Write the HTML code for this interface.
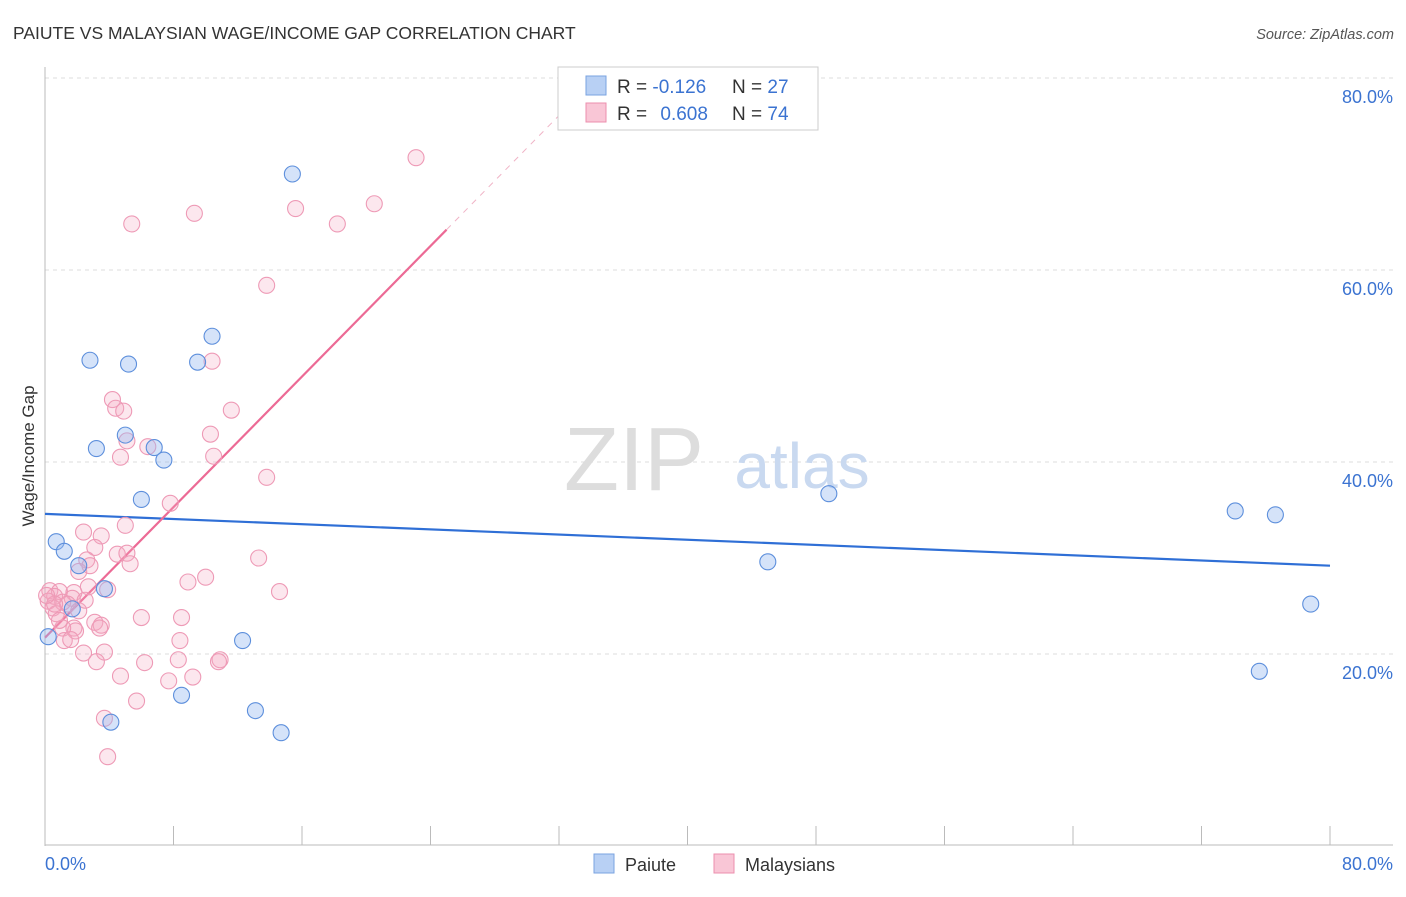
<!DOCTYPE html>
<html><head><meta charset="utf-8"><style>
body{margin:0;background:#fff;font-family:"Liberation Sans",sans-serif;}
svg text{font-family:"Liberation Sans",sans-serif;}
</style></head><body>
<svg width="1406" height="892" xmlns="http://www.w3.org/2000/svg">
<text x="13" y="39" font-size="17.5" fill="#333">PAIUTE VS MALAYSIAN WAGE/INCOME GAP CORRELATION CHART</text>
<text x="1394" y="39" font-size="14.5" fill="#555" font-style="italic" text-anchor="end">Source: ZipAtlas.com</text>
<g id="grid"></g>
<g>
<text x="634" y="490" font-size="90" fill="#ddd" font-family="Liberation Serif" text-anchor="middle">ZIP</text>
<text x="802" y="488" font-size="64" fill="#c9d9f0" text-anchor="middle">atlas</text>
</g>
<line x1="45" y1="67" x2="45" y2="846" stroke="#bbb"/>
<line x1="45" y1="845" x2="1393" y2="845" stroke="#bbb"/>
<g id="ticks"></g>
<g id="lines"></g>
<g id="pts"></g>
<text x="45" y="870" font-size="18" fill="#3b73d1">0.0%</text>
<text x="1393" y="870" font-size="18" fill="#3b73d1" text-anchor="end">80.0%</text>
<text x="34" y="456" font-size="17" fill="#333" text-anchor="middle" transform="rotate(-90 34 456)">Wage/Income Gap</text>
<g>
<rect x="558" y="67" width="260" height="63" fill="#fff" stroke="#ccc"/>
<rect x="586" y="76" width="20" height="19" fill="#b8d0f4" stroke="#7aa3e0"/>
<rect x="586" y="103" width="20" height="19" fill="#f9c6d6" stroke="#ec8fae"/>
<text x="617" y="93" font-size="19" fill="#333">R = <tspan fill="#3b73d1">-0.126</tspan></text>
<text x="732" y="93" font-size="19" fill="#333">N = <tspan fill="#3b73d1">27</tspan></text>
<text x="617" y="120" font-size="19" fill="#333">R = <tspan fill="#3b73d1" dx="8">0.608</tspan></text>
<text x="732" y="120" font-size="19" fill="#333">N = <tspan fill="#3b73d1">74</tspan></text>
</g>
<g>
<rect x="594" y="854" width="20" height="19" fill="#b8d0f4" stroke="#7aa3e0"/>
<text x="625" y="871" font-size="18" fill="#333">Paiute</text>
<rect x="714" y="854" width="20" height="19" fill="#f9c6d6" stroke="#ec8fae"/>
<text x="745" y="871" font-size="18" fill="#333">Malaysians</text>
</g>
</svg>
<script>
const yTicks=[20,40,60,80];
const xTickVals=[0,8,16,24,32,40,48,56,64,72,80];
const paiuteX=[15.4,10.4,2.8,5.2,9.5,3.2,5.0,6.8,7.4,6.0,0.7,1.2,2.1,1.7,3.7,0.2,12.3,8.5,13.1,4.1,14.7,48.8,45.0,74.1,76.6,78.8,75.6];
const paiuteY=[70.0,53.1,50.6,50.2,50.4,41.4,42.8,41.5,40.2,36.1,31.7,30.7,29.2,24.7,26.8,21.8,21.4,15.7,14.1,12.9,11.8,36.7,29.6,34.9,34.5,25.2,18.2];
const malayPx=[[416,158],[132,224],[195,213],[295,209],[375,204],[337,224],[266,285],[212,361],[113,400],[116,408],[124,411],[231,410],[210,434],[127,441],[148,447],[121,457],[214,456],[267,477],[171,503],[83,532],[125,525],[101,536],[95,547],[117,554],[127,553],[258,558],[87,560],[90,566],[130,564],[78,571],[206,577],[188,582],[89,587],[108,590],[279,592],[50,591],[60,592],[74,593],[55,596],[72,598],[48,601],[62,602],[67,604],[78,611],[53,608],[56,614],[141,618],[181,618],[95,622],[102,625],[74,628],[76,631],[63,628],[99,628],[65,641],[180,641],[83,653],[104,652],[97,662],[144,663],[178,660],[220,660],[218,662],[120,676],[192,677],[169,681],[136,701],[104,718],[108,757],[54,604],[59,620],[46,595],[85,600],[70,640]];
const malayX=malayPx.map(p=>+((p[0]-45)/16.0625).toFixed(1));
const malayY=malayPx.map(p=>+((846-p[1])/9.6).toFixed(1));
const blueTrend=[[0,34.6],[80,29.2]];
const pinkTrend=[[0,21.7],[25,64.2]];
const pinkDash=[[25,64.2],[34.3,80]];
const sx=v=>45+v*16.0625, sy=v=>846-v*9.6;
const NS="http://www.w3.org/2000/svg";
function mk(tag,parent,attrs){const e=document.createElementNS(NS,tag);for(const k in attrs)e.setAttribute(k,attrs[k]);document.getElementById(parent).appendChild(e);return e;}
yTicks.forEach(t=>{
 const l=mk('line','grid',{x1:45,x2:1393,y1:sy(t),y2:sy(t),stroke:'#ddd','stroke-dasharray':'4,4'});
 
 
 const tx=mk('text','grid',{x:1393,y:sy(t)+25,'font-size':18,fill:'#3b73d1','text-anchor':'end'});
 tx.textContent=t.toFixed(1)+'%';
 
 
});
xTickVals.forEach(t=>{
 const l=mk('line','ticks',{x1:sx(t),x2:sx(t),y1:826,y2:845,stroke:'#bbb'});
 
 
});
function ln(a,b,col,dash){const l=mk('line','lines',{x1:sx(a[0]),y1:sy(a[1]),x2:sx(b[0]),y2:sy(b[1]),stroke:col,'stroke-width':dash?1:2.2});if(dash)l.setAttribute('stroke-dasharray','6,6');return l;}
const b1=ln(blueTrend[0],blueTrend[1],'#2f6fd6');


const p1=ln(pinkTrend[0],pinkTrend[1],'#ec6a95');


const p2=ln(pinkDash[0],pinkDash[1],'#f0b3c6',true);


malayX.forEach((x,i)=>{
 const c=mk('circle','pts',{cx:sx(x),cy:sy(malayY[i]),r:8,fill:'rgba(246,170,195,0.28)',stroke:'#ee9ab6','stroke-width':1.1});
 
 
});
paiuteX.forEach((x,i)=>{
 const c=mk('circle','pts',{cx:sx(x),cy:sy(paiuteY[i]),r:8,fill:'rgba(150,185,240,0.4)',stroke:'#5d8fdc','stroke-width':1.1});
 
 
});
</script>
</body></html>
